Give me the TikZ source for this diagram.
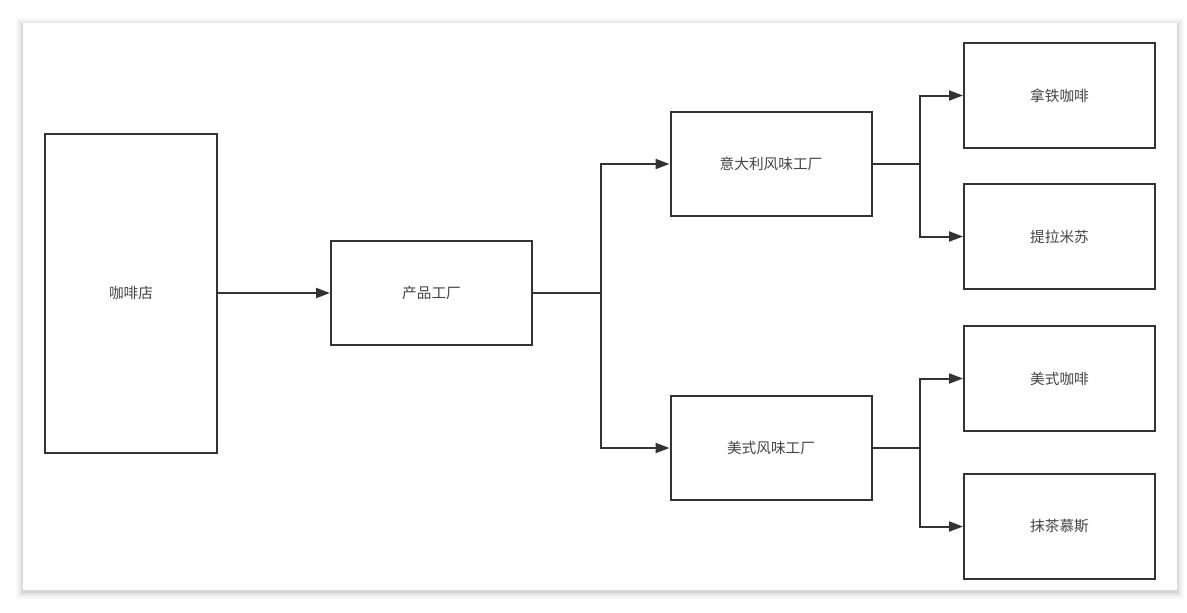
\documentclass[tikz,border=0pt]{standalone}
\usepackage{fontspec}
\setmainfont{Noto Sans CJK SC}
\usetikzlibrary{arrows.meta}
\definecolor{ln}{HTML}{333333}
\definecolor{tx}{HTML}{444444}
\tikzset{
  box/.style={draw=ln, line width=1.5pt, fill=white, inner sep=0pt, text=tx, font=\fontsize{11}{13}\selectfont},
  conn/.style={draw=ln, line width=1.5pt, -{Triangle[length=10.5pt,width=7.5pt]}},
}
\begin{document}
\begin{tikzpicture}[x=0.75pt,y=-0.75pt]
\useasboundingbox (0,0) rectangle (1187,612);
% shadow of the panel
\foreach \d/\c in {7/2,6/3,5/5,4/7,3/9,2/12,1/16}{
  \fill[black!\c] (23-\d,23-\d+2) rectangle (1177+\d,590+\d+2);
}
\fill[white] (23,23) rectangle (1177,590);
% nodes
\node[box, minimum width=172*0.75pt, minimum height=319*0.75pt] (shop) at (131,293) {咖啡店};
\node[box, minimum width=201*0.75pt, minimum height=104*0.75pt] (fac) at (431.5,293) {产品工厂};
\node[box, minimum width=201*0.75pt, minimum height=104*0.75pt] (it) at (771,164) {意大利风味工厂};
\node[box, minimum width=201*0.75pt, minimum height=104*0.75pt] (us) at (771,448) {美式风味工厂};
\node[box, minimum width=191*0.75pt, minimum height=105*0.75pt] (latte) at (1059.5,95.5) {拿铁咖啡};
\node[box, minimum width=191*0.75pt, minimum height=105*0.75pt] (tira) at (1059.5,236.5) {提拉米苏};
\node[box, minimum width=191*0.75pt, minimum height=105*0.75pt] (amer) at (1059.5,378.5) {美式咖啡};
\node[box, minimum width=191*0.75pt, minimum height=105*0.75pt] (matcha) at (1059.5,526.5) {抹茶慕斯};
% connectors
\draw[conn] (shop.east) -- (fac.west);
\draw[conn] (fac.east) -- ++(68,0) |- (it.west);
\draw[conn] (fac.east) -- ++(68,0) |- (us.west);
\draw[conn] (it.east) -- ++(47,0) |- (latte.west);
\draw[conn] (it.east) -- ++(47,0) |- (tira.west);
\draw[conn] (us.east) -- ++(47,0) |- (amer.west);
\draw[conn] (us.east) -- ++(47,0) |- (matcha.west);
\end{tikzpicture}
\end{document}
